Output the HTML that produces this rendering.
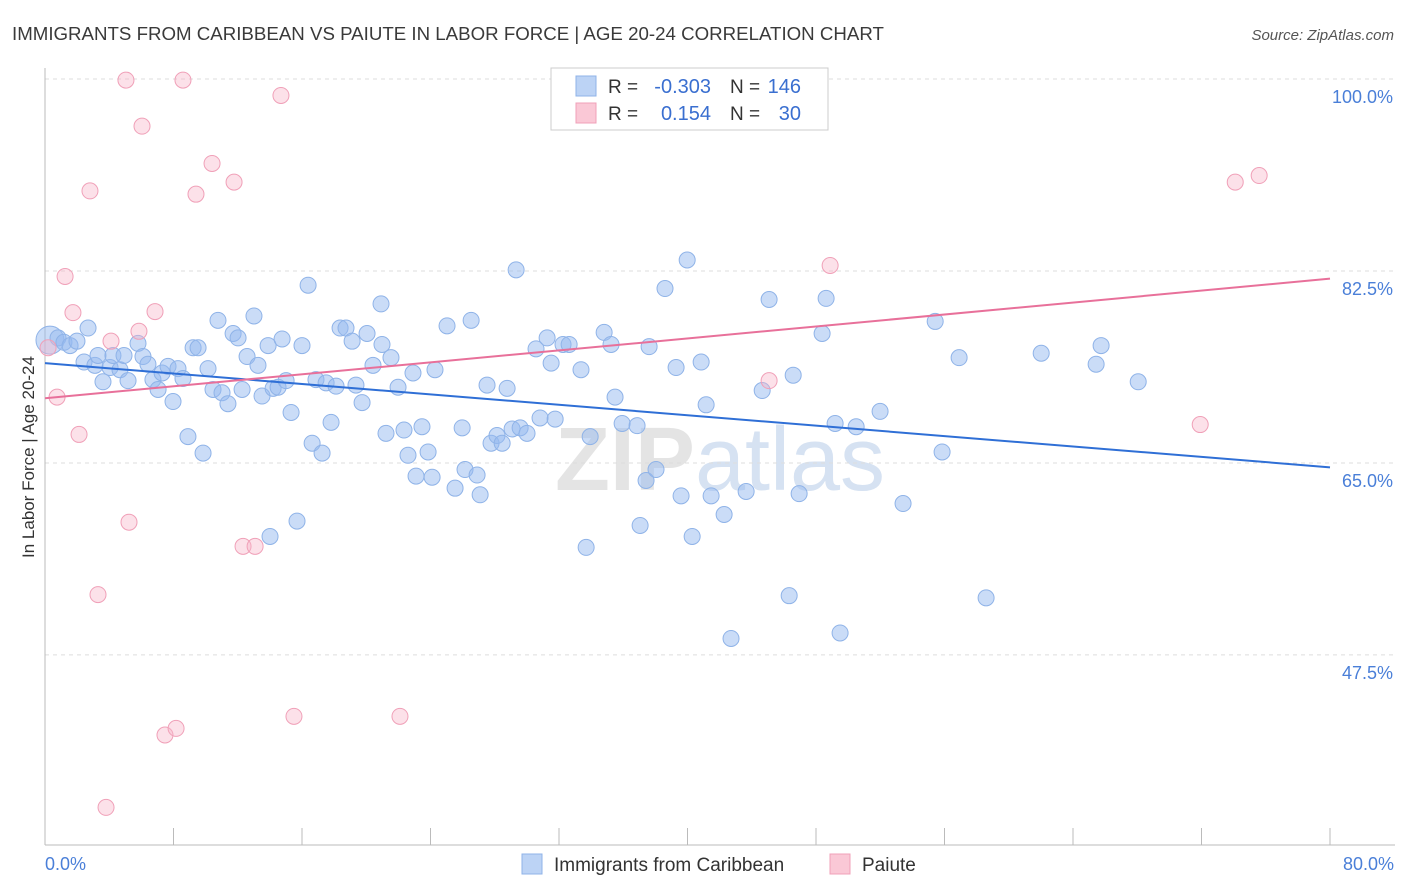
<!DOCTYPE html>
<html><head><meta charset="utf-8"><style>
body{margin:0;background:#fff;font-family:"Liberation Sans",sans-serif;}
svg{display:block}
</style></head><body>
<svg id="c" width="1406" height="892">
<text x="12" y="40" font-size="18.7" fill="#3a3a3a">IMMIGRANTS FROM CARIBBEAN VS PAIUTE IN LABOR FORCE | AGE 20-24 CORRELATION CHART</text>
<text x="1394" y="40" font-size="15" fill="#555" text-anchor="end" font-style="italic">Source: ZipAtlas.com</text>
<text x="720" y="490" font-size="90" fill="#e4e4e4" text-anchor="middle" font-weight="bold">ZIP<tspan fill="#d6e2f2" font-weight="normal">atlas</tspan></text>
<g id="grid"></g>
<g id="pts"></g>
<g id="lines"></g>
<text transform="translate(34,457) rotate(-90)" font-size="17" fill="#333" text-anchor="middle">In Labor Force | Age 20-24</text>
<text x="45" y="870" font-size="18" fill="#4a7fd8">0.0%</text>
<text x="1394" y="870" font-size="18" fill="#4a7fd8" text-anchor="end">80.0%</text>
<g>
<rect x="551" y="68" width="277" height="62" fill="#fff" stroke="#ccc"/>
<rect x="576" y="76" width="20" height="20" fill="#bcd3f5" stroke="#8fb3e8"/>
<rect x="576" y="103" width="20" height="20" fill="#fac8d6" stroke="#f0a0b8"/>
<text x="608" y="93" font-size="19" fill="#333">R =</text>
<text x="711" y="93" font-size="20" fill="#3a6fd0" text-anchor="end">-0.303</text>
<text x="730" y="93" font-size="19" fill="#333">N =</text>
<text x="801" y="93" font-size="20" fill="#3a6fd0" text-anchor="end">146</text>
<text x="608" y="120" font-size="19" fill="#333">R =</text>
<text x="711" y="120" font-size="20" fill="#3a6fd0" text-anchor="end">0.154</text>
<text x="730" y="120" font-size="19" fill="#333">N =</text>
<text x="801" y="120" font-size="20" fill="#3a6fd0" text-anchor="end">30</text>
</g>
<g>
<rect x="522" y="854" width="20" height="20" fill="#bcd3f5" stroke="#8fb3e8"/>
<text x="554" y="871" font-size="19" fill="#333">Immigrants from Caribbean</text>
<rect x="830" y="854" width="20" height="20" fill="#fac8d6" stroke="#f0a0b8"/>
<text x="862" y="871" font-size="19" fill="#333">Paiute</text>
</g>
</svg>
<script>
const yTicks=[100,82.5,65,47.5];
const xTickCount=10;
const blueX=[0.31,0.81,1.18,1.56,1.99,2.68,2.43,3.11,3.61,3.30,4.05,4.23,4.67,4.92,5.17,5.79,6.10,6.41,6.72,7.04,7.29,7.66,7.97,8.28,8.59,8.90,9.22,9.53,9.84,10.15,10.46,10.77,11.02,11.39,11.71,12.02,12.27,12.58,13.01,13.26,13.51,13.89,14.20,14.51,14.76,15.01,15.32,15.69,14.01,16.00,16.38,16.63,16.87,17.25,17.50,17.81,18.12,18.37,18.74,19.12,19.36,19.74,20.05,20.42,20.92,20.98,21.23,21.54,21.98,22.35,22.60,22.91,23.10,23.47,23.85,24.10,24.28,25.03,25.53,25.97,26.15,26.53,26.90,27.09,27.52,27.77,28.14,28.46,28.77,29.08,29.33,29.58,30.01,30.57,30.82,31.26,31.51,31.76,32.25,32.63,33.37,33.69,33.94,34.81,35.24,35.49,35.93,36.86,37.05,37.42,37.61,38.04,38.60,39.29,39.60,39.98,40.29,40.85,41.16,41.47,42.28,42.71,43.65,44.65,45.08,46.33,46.58,46.95,48.38,48.63,49.19,49.50,50.50,51.99,53.42,55.42,55.85,56.91,58.59,62.02,65.44,65.75,68.06];
const blueY=[76.2,76.4,76.0,75.7,76.1,77.3,74.2,73.9,72.4,74.8,73.7,74.8,73.5,74.8,72.5,75.9,74.7,74.0,72.6,71.7,73.2,73.8,70.6,73.6,72.7,67.4,75.5,75.5,65.9,73.6,71.7,78.0,71.4,70.4,76.8,76.4,71.7,74.7,78.4,73.9,71.1,75.7,71.8,71.9,76.3,72.5,69.6,59.7,58.3,75.7,81.2,66.8,72.6,65.9,72.3,68.7,72.0,77.3,77.3,76.1,72.1,70.5,76.8,73.9,79.5,75.8,67.7,74.6,71.9,68.0,65.7,73.2,63.8,68.3,66.0,63.7,73.5,77.5,62.7,68.2,64.4,78.0,63.9,62.1,72.1,66.8,67.5,66.8,71.8,68.1,82.6,68.2,67.7,75.4,69.1,76.4,74.1,69.0,75.8,75.8,73.5,57.3,67.4,76.9,75.8,71.0,68.6,68.4,59.3,63.4,75.6,64.4,80.9,73.7,62.0,83.5,58.3,74.2,70.3,62.0,60.3,49.0,62.4,71.6,79.9,52.9,73.0,62.2,76.8,80.0,68.6,49.5,68.3,69.7,61.3,77.9,66.0,74.6,52.7,75.0,74.0,75.7,72.4];
const pinkX=[0.19,0.75,1.25,1.74,2.12,2.80,3.30,4.11,5.04,5.23,5.85,6.04,6.85,7.47,8.16,8.59,9.40,10.40,11.77,12.33,13.08,14.69,15.50,22.10,3.80,45.08,48.88,71.92,74.10,75.59];
const pinkY=[75.5,71.0,82.0,78.7,67.6,89.8,53.0,76.1,99.9,59.6,77.0,95.7,78.8,40.2,40.8,99.9,89.5,92.3,90.6,57.4,57.4,98.5,41.9,41.9,33.6,72.5,83.0,68.5,90.6,91.2];
const blueTrend=[74.1,64.6];
const pinkTrend=[70.9,81.8];
const xMax=80;
const NS="http://www.w3.org/2000/svg";
function sx(v){return 45+v/xMax*1285;}
function sy(v){return 79+(100-v)*10.97;}
function mk(tag,attrs,parent){const e=document.createElementNS(NS,tag);for(const k in attrs)e.setAttribute(k,attrs[k]);parent.appendChild(e);return e;}
const grid=document.getElementById('grid');
yTicks.forEach(t=>{
 const l=mk('line',{x1:45,x2:1395,y1:sy(t),y2:sy(t),stroke:'#ddd','stroke-dasharray':'4,4'},grid);
 
 
 const tx=mk('text',{x:1393,y:sy(t)+24,'font-size':18,fill:'#4a7fd8','text-anchor':'end'},grid);
 tx.textContent=t.toFixed(1)+'%';
 
 
});
const ax=mk('line',{x1:45,x2:1395,y1:845,y2:845,stroke:'#bbb'},grid);


const ay=mk('line',{x1:45,x2:45,y1:68,y2:845,stroke:'#bbb'},grid);


for(let i=0;i<=xTickCount;i++){
 const x=sx(i*xMax/xTickCount);
 const t=mk('line',{x1:x,x2:x,y1:828,y2:845,stroke:'#bbb'},grid);
 
 
}
const pts=document.getElementById('pts');
blueX.forEach((x,i)=>{
 const c=mk('circle',{cx:sx(x),cy:sy(blueY[i]),r:i===0?14:8,fill:'rgba(150,185,240,0.5)',stroke:'#8fb3e8','stroke-width':1},pts);
 
 
});
pinkX.forEach((x,i)=>{
 const c=mk('circle',{cx:sx(x),cy:sy(pinkY[i]),r:8,fill:'rgba(248,180,200,0.4)',stroke:'#f0a0b8','stroke-width':1},pts);
 
 
});
const lines=document.getElementById('lines');
const bl=mk('line',{x1:sx(0),x2:sx(xMax),y1:sy(blueTrend[0]),y2:sy(blueTrend[1]),stroke:'#2f6fd6','stroke-width':2},lines);


const pl=mk('line',{x1:sx(0),x2:sx(xMax),y1:sy(pinkTrend[0]),y2:sy(pinkTrend[1]),stroke:'#e8709a','stroke-width':2},lines);


</script>
</body></html>
